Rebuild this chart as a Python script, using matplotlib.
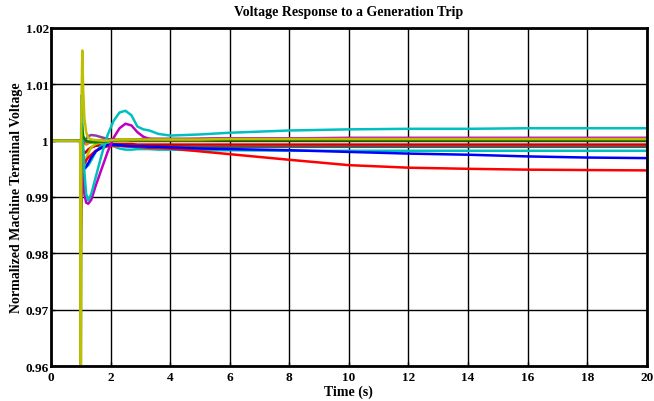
import matplotlib
matplotlib.use("Agg")
import matplotlib.pyplot as plt

plt.rcParams['font.family'] = ['Liberation Serif', 'DejaVu Serif']
plt.rcParams['font.weight'] = 'bold'

# time samples (s)
t = [0, 0.98, 1.0, 1.02, 1.05, 1.08, 1.12, 1.18, 1.25, 1.35, 1.5, 1.7, 1.9, 2.1, 2.3,
     2.5, 2.7, 2.9, 3.1, 3.3, 3.6, 4, 5, 6, 8, 10, 12, 14, 16, 18, 20]

# normalized terminal voltage per machine
v_red = [1.0, 1.0, 0.982, 0.990, 0.994, 0.9955, 0.996, 0.9965, 0.997, 0.9975, 0.9982, 0.9987, 0.9990,
         0.9991, 0.9991, 0.9990, 0.9990, 0.9989, 0.9988, 0.9987, 0.9987, 0.9986, 0.9981, 0.9976, 0.9966,
         0.99565, 0.9952, 0.9950, 0.99485, 0.99478, 0.99472]
v_red2 = [1.0, 1.0, 0.992, 1.001, 0.999, 0.998, 0.9978, 0.998, 0.9984, 0.9988, 0.9991, 0.9993, 0.9994,
          0.9994, 0.9994, 0.9994, 0.9994, 0.9993, 0.9993, 0.9993, 0.9993, 0.9993, 0.9993, 0.9993, 0.9993,
          0.9993, 0.9993, 0.9993, 0.9993, 0.9993, 0.9993]
v_blue = [1.0, 1.0, 0.988, 1.002, 0.996, 0.9952, 0.9950, 0.9953, 0.9960, 0.9970, 0.9981, 0.9988, 0.9992,
          0.9993, 0.9992, 0.9991, 0.9990, 0.9990, 0.9990, 0.9989, 0.9989, 0.9988, 0.9986, 0.9985, 0.9983,
          0.9980, 0.9977, 0.9975, 0.9972, 0.9970, 0.9969]
v_green = [1.0, 1.0, 0.955, 1.003, 1.002, 1.0008, 1.0003, 1.0, 0.9998, 0.9997, 0.9997, 0.9998, 0.9999,
           1.0, 1.0001, 1.0001, 1.0001, 1.0001, 1.0001, 1.0001, 1.0001, 1.0001, 1.0001, 1.0001, 1.0001,
           1.0001, 1.0001, 1.0001, 1.0001, 1.0001, 1.0001]
v_cyan = [1.0, 1.0, 0.993, 1.008, 1.004, 0.999, 0.9945, 0.9905, 0.9894, 0.9905, 0.9935, 0.9975, 1.0010,
          1.0035, 1.0050, 1.0053, 1.0045, 1.0025, 1.0020, 1.0018, 1.0012, 1.0009, 1.0011, 1.0014, 1.0018,
          1.0020, 1.0021, 1.0021, 1.0022, 1.0022, 1.0022]
v_cyan2 = [1.0, 1.0, 0.990, 1.002, 0.999, 0.998, 0.9968, 0.9958, 0.9956, 0.9965, 0.9980, 0.9992, 0.9994,
           0.9990, 0.9986, 0.9984, 0.9984, 0.9985, 0.9985, 0.9985, 0.9984, 0.9984, 0.9983, 0.9983, 0.9982,
           0.9982, 0.9982, 0.9982, 0.9982, 0.9982, 0.9982]
v_magenta = [1.0, 1.0, 0.995, 0.998, 0.996, 0.993, 0.9905, 0.9890, 0.9888, 0.9895, 0.9920, 0.9950, 0.9980,
             1.0005, 1.0022, 1.0030, 1.0027, 1.0015, 1.0007, 1.0003, 1.0002, 1.0002, 1.0003, 1.0004, 1.0004,
             1.0005, 1.0005, 1.0005, 1.0005, 1.0005, 1.0005]
v_purple = [1.0, 1.0, 0.997, 1.001, 1.0, 0.9995, 0.9998, 1.0003, 1.0008, 1.0010, 1.0009, 1.0006, 1.0003,
            1.0001, 1.0, 1.0, 1.0001, 1.0002, 1.0003, 1.0003, 1.0003, 1.0003, 1.0003, 1.0004, 1.0004,
            1.0004, 1.0004, 1.0004, 1.0004, 1.0004, 1.0004]
v_yellow = [1.0, 1.0, 0.955, 1.005, 1.016, 1.009, 1.004, 1.0015, 1.0005, 1.0002, 1.0001, 1.0, 1.0,
            1.0001, 1.0002, 1.0002, 1.0002, 1.0002, 1.0002, 1.0002, 1.0002, 1.0002, 1.0002, 1.0003, 1.0003,
            1.0003, 1.0003, 1.0003, 1.0003, 1.0003, 1.0003]
v_yellow2 = [1.0, 1.0, 0.985, 0.9955, 0.9945, 0.9947, 0.9955, 0.9967, 0.9978, 0.9988, 0.9994, 0.9997, 0.9998,
             0.9999, 1.0, 1.0, 1.0001, 1.0001, 1.0001, 1.0001, 1.0001, 1.0001, 1.0001, 1.0002, 1.0002,
             1.0002, 1.0002, 1.0002, 1.0002, 1.0002, 1.0002]
v_orange = [1.0, 1.0, 0.996, 1.001, 1.0005, 1.0, 0.9995, 0.9993, 0.9995, 0.9998, 1.0, 1.0001, 1.0001,
            1.0001, 1.0001, 1.0001, 1.0001, 1.0001, 1.0001, 1.0001, 1.0001, 1.0001, 1.0001, 1.0001, 1.0001,
            1.0001, 1.0001, 1.0001, 1.0001, 1.0001, 1.0001]
v_brown = [1.0, 1.0, 0.997, 1.002, 1.001, 1.0003, 1.0, 0.9998, 0.9998, 0.9999, 1.0, 1.0001, 1.0002,
           1.0002, 1.0002, 1.0002, 1.0002, 1.0002, 1.0003, 1.0003, 1.0003, 1.0003, 1.0003, 1.0003, 1.0003,
           1.0003, 1.0003, 1.0003, 1.0003, 1.0003, 1.0003]
v_gray = [1.0, 1.0, 0.994, 1.0015, 0.999, 0.998, 0.9978, 0.998, 0.9984, 0.9988, 0.9991, 0.9992, 0.9992,
          0.9991, 0.9991, 0.9990, 0.9990, 0.9990, 0.9990, 0.9990, 0.9990, 0.9990, 0.9989, 0.9989, 0.9989,
          0.9989, 0.9989, 0.9989, 0.9989, 0.9989, 0.9989]

series = [
    (v_gray, '#555555'),
    (v_brown, '#A0522D'),
    (v_orange, '#FF8000'),
    (v_purple, '#8B3FA8'),
    (v_red2, '#D00000'),
    (v_cyan2, '#00BFBF'),
    (v_yellow2, '#BFBF00'),
    (v_red, '#FF0000'),
    (v_blue, '#0000FF'),
    (v_magenta, '#BF00BF'),
    (v_cyan, '#00BFBF'),
    (v_green, '#008000'),
    (v_yellow, '#BFBF00'),
]

fig = plt.figure(figsize=(6.54, 4.02), dpi=100)
ax = fig.add_axes([0.078, 0.087, 0.911, 0.841])

for v, c in series:
    ax.plot(t, v, color=c, lw=1.8)

ax.set_xlim(0, 20)
ax.set_ylim(0.96, 1.02)
ax.set_xticks(range(0, 21, 2))
ax.set_yticks([0.96, 0.97, 0.98, 0.99, 1.0, 1.01, 1.02])
ax.set_yticklabels(['0.96', '0.97', '0.98', '0.99', '1', '1.01', '1.02'])
ax.grid(True, color='black', lw=1.0)
ax.set_axisbelow(True)
ax.tick_params(direction='in', length=3, width=1, labelsize=9.5, pad=1.5)
ax.tick_params(axis='x', pad=3.5)
for s in ax.spines.values():
    s.set_linewidth(2)

ax.set_title('Voltage Response to a Generation Trip', fontsize=10, fontweight='bold', pad=9)
ax.set_xlabel('Time (s)', fontsize=10, fontweight='bold', labelpad=1)
ax.set_ylabel('Normalized Machine Terminal Voltage', fontsize=10, fontweight='bold', labelpad=2)

fig.savefig('out.png', dpi=100)
